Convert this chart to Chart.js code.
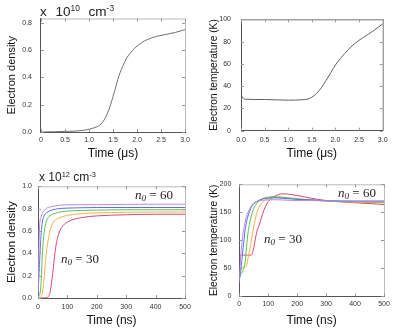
<!DOCTYPE html>
<html>
<head>
<meta charset="utf-8">
<script src="https://cdn.jsdelivr.net/npm/chart.js@4"></script>
<style>
  body { margin: 0; background: #fff; }
  #wrap { position: relative; width: 398px; height: 334px; font-family: "Liberation Sans", Arial, sans-serif; overflow: hidden; }
  .panel { position: absolute; }
  .unit { position: absolute; color: #222; line-height: 1; white-space: nowrap; }
  .unit sup { font-size: 0.62em; vertical-align: 0.55em; }
  .n0 { position: absolute; font-family: "Liberation Serif", "Times New Roman", serif; font-size: 13px; color: #222; line-height: 1; white-space: nowrap; }
  .n0 i { font-style: italic; }
  .n0 sub { font-size: 0.7em; font-style: italic; vertical-align: -0.25em; }
</style>
</head>
<body>
<div id="wrap">
  <canvas id="c1" class="panel" width="199" height="167" style="left:0;top:0"></canvas>
  <canvas id="c2" class="panel" width="198" height="167" style="left:200px;top:0"></canvas>
  <canvas id="c3" class="panel" width="199" height="167" style="left:0;top:167px"></canvas>
  <canvas id="c4" class="panel" width="198" height="167" style="left:200px;top:167px"></canvas>

  <div class="unit" style="left:40px;top:4px;font-size:13.5px;word-spacing:5px">x 10<sup>10</sup> cm<sup>-3</sup></div>
  <div class="unit" style="left:39px;top:171px;font-size:12px">x 10<sup>12</sup> cm<sup>-3</sup></div>

  <div class="n0" style="left:135px;top:188px"><i>n</i><sub>0</sub> = 60</div>
  <div class="n0" style="left:61px;top:252px"><i>n</i><sub>0</sub> = 30</div>
  <div class="n0" style="left:338px;top:186px"><i>n</i><sub>0</sub> = 60</div>
  <div class="n0" style="left:264px;top:232px"><i>n</i><sub>0</sub> = 30</div>
</div>

<script>
// top row: time in microseconds
const timeUs = [0, 0.3, 0.6, 0.9, 1.0, 1.1, 1.2, 1.3, 1.4, 1.45, 1.5, 1.55, 1.6, 1.7, 1.8, 1.9, 2.0, 2.2, 2.4, 2.6, 2.8, 3.0];
const densityUs = [0, 0.002, 0.005, 0.013, 0.02, 0.03, 0.045, 0.08, 0.15, 0.2, 0.26, 0.32, 0.385, 0.48, 0.55, 0.595, 0.63, 0.675, 0.70, 0.715, 0.73, 0.75];

const timeUs2 = [0, 0.05, 0.1, 0.5, 1.0, 1.3, 1.4, 1.5, 1.6, 1.7, 1.8, 1.9, 2.0, 2.2, 2.4, 2.6, 2.8, 3.0];
const tempUs = [32, 29, 28.2, 28, 27.4, 27.8, 28.3, 30, 33.5, 38.5, 45, 52, 59, 69.5, 78, 84, 89.5, 96];

// bottom row: time in ns, one series per n0
const n0Labels = ['n0 = 60', 'n0 = 52.5', 'n0 = 45', 'n0 = 37.5', 'n0 = 30'];
const n0Colors = ['#b58ae6', '#5c6ee0', '#58c058', '#f0b444', '#e0446c'];

const timeNs = [0, 5, 10, 15, 20, 25, 30, 40, 50, 60, 70, 80, 100, 150, 200, 300, 400, 500];
const density60 = [0.05, 0.62, 0.72, 0.76, 0.78, 0.795, 0.805, 0.815, 0.82, 0.825, 0.83, 0.832, 0.835, 0.835, 0.835, 0.838, 0.84, 0.84];
const density52 = [0.02, 0.30, 0.55, 0.68, 0.73, 0.755, 0.765, 0.78, 0.79, 0.795, 0.80, 0.802, 0.805, 0.808, 0.81, 0.81, 0.81, 0.81];
const density45 = [0.01, 0.02, 0.12, 0.40, 0.57, 0.65, 0.70, 0.735, 0.75, 0.76, 0.767, 0.772, 0.778, 0.784, 0.787, 0.79, 0.79, 0.79];
const density37 = [0, 0, 0.01, 0.05, 0.16, 0.31, 0.44, 0.59, 0.67, 0.70, 0.715, 0.725, 0.74, 0.755, 0.762, 0.767, 0.77, 0.77];
const density30 = [0, 0, 0, 0, 0, 0.002, 0.005, 0.04, 0.22, 0.45, 0.57, 0.63, 0.68, 0.72, 0.735, 0.745, 0.75, 0.75];

const timeNs2 = [0, 5, 10, 15, 20, 25, 30, 40, 45, 50, 60, 70, 80, 90, 100, 120, 150, 200, 250, 300, 400, 500];
const temp60 = [25, 72, 100, 119, 132, 143, 150, 160, 164, 167, 169, 170.5, 171.5, 172, 172, 172.5, 172, 171, 171, 170.5, 170, 170];
const temp52 = [28, 45, 70, 95, 118, 133, 143, 157, 162, 165, 169, 172, 174, 175, 175.5, 176, 175, 173, 172, 171, 170, 170];
const temp45 = [32, 40, 42, 50, 60, 88, 113, 140, 150, 157, 166, 171, 174, 176, 177, 178, 177, 174, 172, 170, 169, 168];
const temp37 = [40, 48, 51, 52, 52, 55, 68, 95, 110, 124, 148, 161, 168, 172, 174, 176, 176, 174, 172, 170, 168, 167];
const temp30 = [68, 73, 73.5, 73.5, 73.5, 73.5, 73.5, 73.5, 76, 87, 114, 129, 146, 160, 169, 178, 183, 180, 175, 171, 167, 164];

const densitySeries = [density60, density52, density45, density37, density30];
const tempSeries = [temp60, temp52, temp45, temp37, temp30];

function points(xs, ys) {
    return xs.map((x, i) => ({ x: x, y: ys[i] }));
}

// frame on top/right and short inward ticks on all four sides
const framePlugin = {
    id: 'frame',
    afterDraw(chart, args, opts) {
        const { ctx, chartArea: a, scales } = chart;
        ctx.save();
        ctx.lineWidth = 1;
        ctx.strokeStyle = opts.color || '#bbb';
        ctx.beginPath();
        ctx.moveTo(a.left, a.top + 0.5);
        ctx.lineTo(a.right + 0.5, a.top + 0.5);
        ctx.lineTo(a.right + 0.5, a.bottom);
        ctx.stroke();
        ctx.strokeStyle = '#999';
        ctx.beginPath();
        scales.x.ticks.forEach(t => {
            const px = Math.round(scales.x.getPixelForValue(t.value)) + 0.5;
            ctx.moveTo(px, a.top); ctx.lineTo(px, a.top + 3);
            ctx.moveTo(px, a.bottom); ctx.lineTo(px, a.bottom - 3);
        });
        scales.y.ticks.forEach(t => {
            const py = Math.round(scales.y.getPixelForValue(t.value)) + 0.5;
            ctx.moveTo(a.left, py); ctx.lineTo(a.left + 3, py);
            ctx.moveTo(a.right, py); ctx.lineTo(a.right - 3, py);
        });
        ctx.stroke();
        ctx.restore();
    }
};

function makeChart(id, cfg) {
    const canvas = document.getElementById(id);
    const W = canvas.width, H = canvas.height;
    const a = cfg.area;
    const chart = new Chart(canvas, {
        type: 'line',
        data: { datasets: cfg.datasets },
        options: {
            responsive: false,
            animation: false,
            layout: { padding: { left: 0, top: a.top, right: W - a.right, bottom: 0 } },
            plugins: {
                legend: { display: false },
                tooltip: { enabled: false },
                frame: { color: cfg.frameColor }
            },
            elements: {
                point: { radius: 0 },
                line: { borderWidth: 1, cubicInterpolationMode: 'monotone' }
            },
            scales: {
                x: {
                    type: 'linear',
                    min: cfg.xMin, max: cfg.xMax,
                    grid: { display: false, drawTicks: false },
                    border: { display: true, color: '#555', width: 1 },
                    ticks: {
                        stepSize: cfg.xStep,
                        includeBounds: false,
                        autoSkip: false,
                        maxRotation: 0,
                        padding: cfg.xPad,
                        color: '#333',
                        font: { family: 'Liberation Sans', size: 7 },
                        callback: v => cfg.xFmt(v)
                    },
                    title: {
                        display: true,
                        text: cfg.xTitle,
                        color: '#111',
                        font: { family: 'Liberation Sans', size: cfg.xTitleSize },
                        padding: { top: 0, bottom: cfg.xTitlePad }
                    },
                    afterFit: s => { s.height = H - a.bottom; }
                },
                y: {
                    min: cfg.yMin, max: cfg.yMax,
                    grid: { display: false, drawTicks: false },
                    border: { display: true, color: '#555', width: 1 },
                    ticks: {
                        stepSize: cfg.yStep,
                        includeBounds: false,
                        padding: cfg.yPad,
                        color: '#333',
                        font: { family: 'Liberation Sans', size: 7 },
                        callback: v => cfg.yFmt(v)
                    },
                    title: {
                        display: true,
                        text: cfg.yTitle,
                        color: '#111',
                        font: { family: 'Liberation Sans', size: cfg.yTitleSize },
                        padding: { top: 0, bottom: 0 }
                    }
                }
            }
        },
        plugins: [framePlugin]
    });

    // second pass: y title centre at yTitleX, plot's left edge at area.left
    // (the title's bottom padding may go negative to absorb spare axis width)
    const lh = cfg.yTitleSize * 1.2;
    const w0 = chart.scales.y.width;
    const padLeft = cfg.yTitleX - lh / 2;
    const gap = a.left - w0 - padLeft;
    const o = chart.config.options;
    o.scales.y.title.padding = { top: 0, bottom: gap };
    o.layout.padding = { left: padLeft, top: a.top, right: W - a.right, bottom: 0 };
    chart.update();
    return chart;
}

const oneDec = v => v.toFixed(1);
const whole = v => String(Math.round(v));

makeChart('c1', {
    datasets: [{ data: points(timeUs, densityUs), borderColor: '#707070' }],
    area: { left: 41, top: 18.5, right: 185, bottom: 132 },
    xMin: 0, xMax: 3, xStep: 0.5, xFmt: v => (v === 0 ? '0' : v.toFixed(1)), xPad: 4,
    yMin: 0, yMax: 0.832, yStep: 0.2, yFmt: oneDec, yPad: 9,
    xTitle: 'Time (\u03BCs)', xTitleSize: 12, xTitlePad: 6,
    yTitle: 'Electron density', yTitleSize: 11, yTitleX: 12,
    frameColor: '#bbb'
});

makeChart('c2', {
    datasets: [{ data: points(timeUs2, tempUs), borderColor: '#606060' }],
    area: { left: 41, top: 19.3, right: 182.7, bottom: 130.7 },
    xMin: 0, xMax: 3, xStep: 0.5, xFmt: oneDec, xPad: 5,
    yMin: 0, yMax: 100, yStep: 20, yFmt: whole, yPad: 10,
    xTitle: 'Time (\u03BCs)', xTitleSize: 12, xTitlePad: 6,
    yTitle: 'Electron temperature (K)', yTitleSize: 10.2, yTitleX: 14,
    frameColor: '#777'
});

makeChart('c3', {
    datasets: densitySeries.map((s, i) => ({ label: n0Labels[i], data: points(timeNs, s), borderColor: n0Colors[i] })),
    area: { left: 38, top: 19.3, right: 185, bottom: 131 },
    xMin: 0, xMax: 500, xStep: 100, xFmt: whole, xPad: 5,
    yMin: 0, yMax: 1.0, yStep: 0.2, yFmt: oneDec, yPad: 6,
    xTitle: 'Time (ns)', xTitleSize: 12, xTitlePad: 6,
    yTitle: 'Electron density', yTitleSize: 11.5, yTitleX: 11.5,
    frameColor: '#bbb'
});

makeChart('c4', {
    datasets: tempSeries.map((s, i) => ({ label: n0Labels[i], data: points(timeNs2, s), borderColor: n0Colors[i] })),
    area: { left: 39.3, top: 17.3, right: 184, bottom: 129.3 },
    xMin: 0, xMax: 500, xStep: 100, xFmt: whole, xPad: 4,
    yMin: 0, yMax: 200, yStep: 50, yFmt: whole, yPad: 8,
    xTitle: 'Time (ns)', xTitleSize: 12, xTitlePad: 6,
    yTitle: 'Electron temperature (K)', yTitleSize: 10.2, yTitleX: 14,
    frameColor: '#bbb'
});
</script>
</body>
</html>
